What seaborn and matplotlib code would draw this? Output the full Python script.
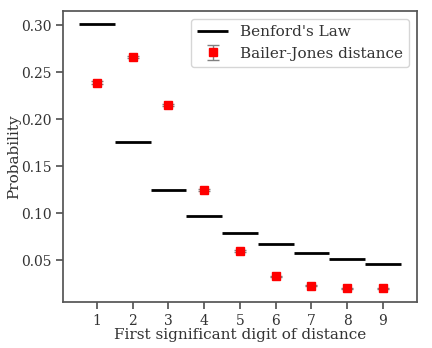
import matplotlib
matplotlib.use("Agg")
import matplotlib.pyplot as plt
import seaborn as sns
import numpy as np

digits = [1, 2, 3, 4, 5, 6, 7, 8, 9]
benford = [0.301, 0.176, 0.125, 0.097, 0.079, 0.067, 0.058, 0.051, 0.046]
bj_prob = [0.239, 0.266, 0.215, 0.125, 0.060, 0.033, 0.023, 0.020, 0.020]
bj_err = [0.0012, 0.0012, 0.0012, 0.0010, 0.0008, 0.0006, 0.0005, 0.0005, 0.0005]

sns.set_theme(style="ticks")
plt.rcParams['font.family'] = ['DejaVu Serif']

fig = plt.figure(figsize=(4.32, 3.48), dpi=100)
ax = fig.add_axes([0.146, 0.132, 0.819, 0.836])

d = np.array(digits)
ax.hlines(benford, d - 0.5, d + 0.5, colors='black', linewidth=2, label="Benford's Law")
ax.errorbar(digits, bj_prob, yerr=bj_err, fmt='s', color='red', markersize=5.5,
            ecolor='gray', elinewidth=1, capsize=4, label='Bailer-Jones distance')

ax.set_xticks(digits)
ax.set_yticks([0.05, 0.10, 0.15, 0.20, 0.25, 0.30])
ax.tick_params(labelsize=10, length=5, color='#555555', labelcolor='#333333')
for s in ax.spines.values():
    s.set_color('#555555')
ax.set_xlabel('First significant digit of distance', fontsize=11, color='#333333')
ax.set_ylabel('Probability', fontsize=11, color='#333333')
ax.yaxis.set_label_coords(-0.118, 0.5)
ax.xaxis.set_label_coords(0.5, -0.09)
leg = ax.legend(loc='upper right', fontsize=11)
for t in leg.get_texts():
    t.set_color('#333333')

fig.savefig('out.png', dpi=100)
